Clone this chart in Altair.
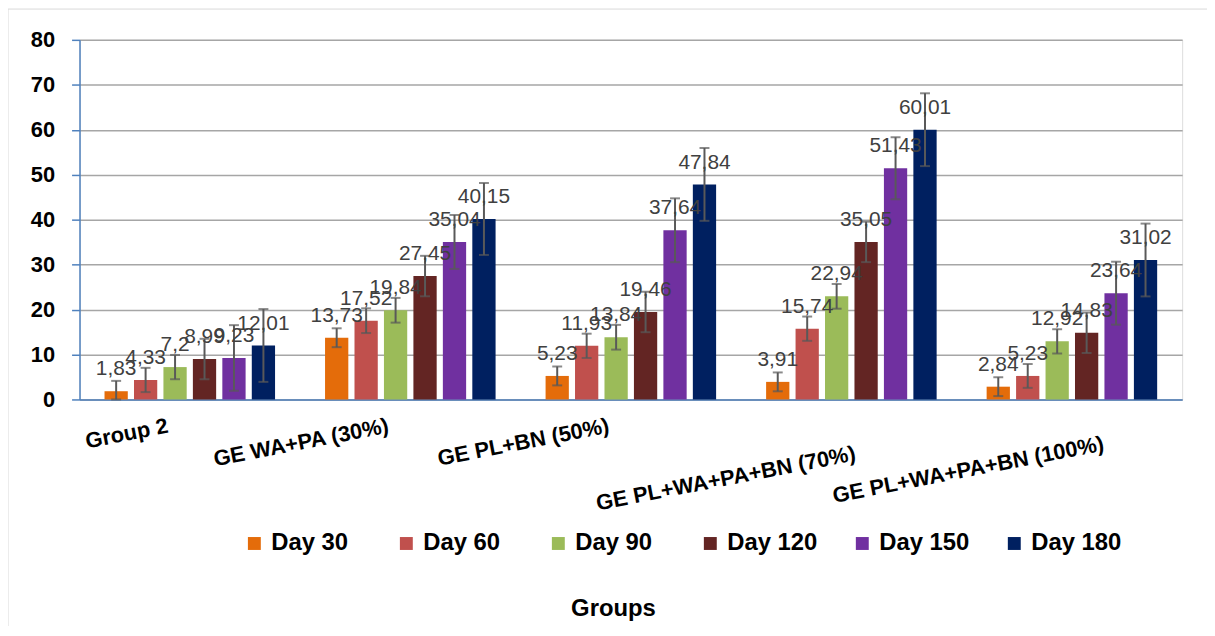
import altair as alt
import pandas as pd

groups = ["Group 2", "GE WA+PA (30%)", "GE PL+BN (50%)", "GE PL+WA+PA+BN (70%)", "GE PL+WA+PA+BN  (100%)"]
days = ["Day 30", "Day 60", "Day 90", "Day 120", "Day 150", "Day 180"]
colors = ["#E46C0A", "#C0504D", "#9BBB59", "#632523", "#7030A0", "#002060"]

day30 = [1.83, 13.73, 5.23, 3.91, 2.84]
day60 = [4.33, 17.52, 11.93, 15.74, 5.23]
day90 = [7.2, 19.84, 13.84, 22.94, 12.92]
day120 = [8.99, 27.45, 19.46, 35.05, 14.83]
day150 = [9.23, 35.04, 37.64, 51.43, 23.64]
day180 = [12.01, 40.15, 47.84, 60.01, 31.02]

err30 = [2.3, 2.1, 2.1, 2.1, 2.1]
err60 = [2.7, 2.75, 2.7, 2.7, 2.65]
err90 = [2.7, 2.75, 2.75, 2.75, 2.7]
err120 = [4.5, 4.5, 4.5, 4.5, 4.5]
err150 = [7.3, 6.0, 7.1, 6.9, 7.0]
err180 = [8.1, 8.0, 8.1, 8.1, 8.1]

y_ticks = [0, 10, 20, 30, 40, 50, 60, 70, 80]

series = [day30, day60, day90, day120, day150, day180]
errs = [err30, err60, err90, err120, err150, err180]
rows = []
for d, vals, es in zip(days, series, errs):
    for g, v, e in zip(groups, vals, es):
        rows.append({"group": g, "day": d, "value": v, "lo": v - e, "hi": v + e,
                     "label": str(v).replace(".", ",")})
df = pd.DataFrame(rows)

FONT = "Liberation Sans"
W, H = 1110, 362

T70 = "indexof(datum.value, '70%') >= 0"
T100 = "indexof(datum.value, '100%') >= 0"

x_enc = alt.X("group:N", sort=groups,
              scale=alt.Scale(paddingInner=0.2, paddingOuter=0.1),
              axis=alt.Axis(labelAngle=-11, labelAlign="right", labelBaseline="top",
                            labelFontSize=22, labelFontWeight="bold", labelFont=FONT,
                            labelColor="#000000", labelLimit=600,
                            labelOffset={"condition": [{"test": T70, "value": 2},
                                                       {"test": T100, "value": 30}],
                                         "value": -24},
                            labelPadding={"condition": [{"test": T70, "value": 44},
                                                        {"test": T100, "value": 34}],
                                          "value": 16},
                            ticks=False, domainColor="#4F81BD",
                            domainWidth=1.5, title="Groups", titleFontSize=24,
                            titleFont=FONT, titleFontWeight="bold", titleColor="#000000",
                            titleX=537, titleY=210, titleBaseline="middle", grid=False))
xo_enc = alt.XOffset("day:N", sort=days, scale=alt.Scale(paddingInner=0.21, paddingOuter=0.1))
y_scale = alt.Scale(domain=[0, 80], clamp=True, nice=False)

base = alt.Chart(df).encode(x=x_enc, xOffset=xo_enc)

bars = base.mark_bar().encode(
    y=alt.Y("value:Q", scale=y_scale,
            axis=alt.Axis(values=y_ticks, grid=True, gridColor="#A6A6A6", gridWidth=1.5,
                          domainColor="#4F81BD", domainWidth=1.5, tickColor="#4F81BD",
                          tickWidth=1.5, tickSize=8, labelFontSize=22, labelFontWeight="bold",
                          labelFont=FONT, labelColor="#000000", labelPadding=17, title=None)),
    color=alt.Color("day:N", sort=days, scale=alt.Scale(domain=days, range=colors),
                    legend=alt.Legend(orient="none", legendX=164, legendY=495,
                                      direction="horizontal", title=None, symbolType="square",
                                      symbolSize=169, symbolStrokeWidth=0, labelFontSize=24,
                                      labelFontWeight="bold", labelFont=FONT,
                                      labelColor="#000000", labelOffset=5, columnPadding=33,
                                      gridAlign="all", labelLimit=300)),
)

rules = base.mark_rule(color="#595959", strokeWidth=2).encode(
    y=alt.Y("lo:Q", scale=y_scale), y2="hi:Q")
caps_hi = base.mark_tick(color="#595959", thickness=2, size=10).encode(
    y=alt.Y("hi:Q", scale=y_scale))
caps_lo = base.mark_tick(color="#595959", thickness=2, size=10).encode(
    y=alt.Y("lo:Q", scale=y_scale))

labels = base.mark_text(fontSize=21, font=FONT, color="#404040", baseline="alphabetic",
                        dy=-16).encode(y=alt.Y("value:Q", scale=y_scale), text="label:N")

frame = alt.Chart(pd.DataFrame({"a": [0]})).mark_rect(fill=None, stroke="#D9D9D9",
                                                       strokeWidth=1).encode(
    x=alt.value(-72), x2=alt.value(1160), y=alt.value(-31), y2=alt.value(593))

chart = alt.layer(frame, bars, rules, caps_hi, caps_lo, labels).properties(
    width=W, height=H,
    autosize=alt.AutoSizeParams(type="none"),
    padding={"left": 72, "top": 30, "right": 25, "bottom": 226},
).configure_view(stroke=None).configure(background="#FFFFFF")

chart.save("out.html", embed_options={"renderer": "svg", "actions": False})
